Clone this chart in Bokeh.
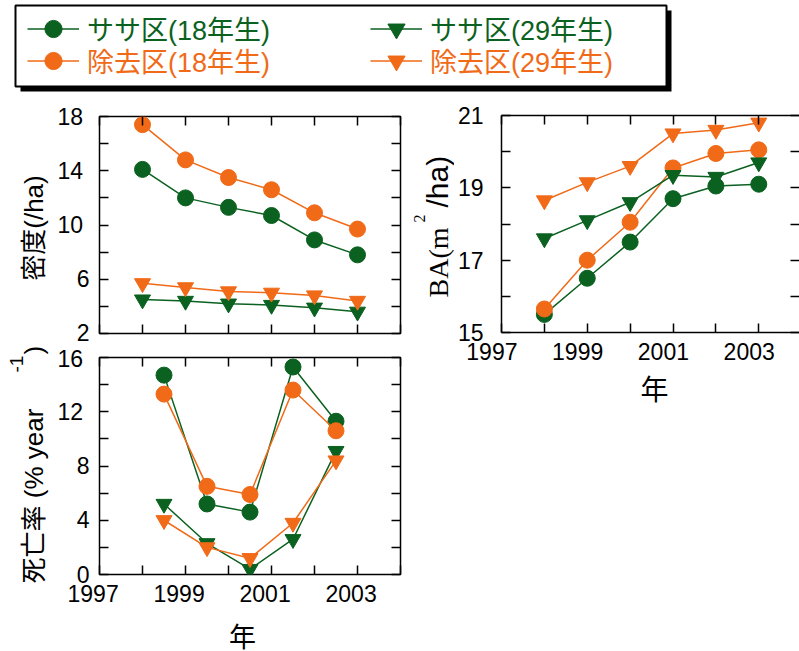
import math

from bokeh.plotting import figure
from bokeh.layouts import column, row
from bokeh.models import (Range1d, FixedTicker, LinearAxis, Label, Legend,
                          LegendItem, BoxAnnotation, CustomJSTickFormatter)
from bokeh.embed import file_html
from bokeh.resources import INLINE

# ---------------- data ----------------
years = [1998, 1999, 2000, 2001, 2002, 2003]
mortality_years = [1998.5, 1999.5, 2000.5, 2001.5, 2002.5]

series_labels = ["ササ区(18年生)", "除去区(18年生)", "ササ区(29年生)", "除去区(29年生)"]

# stand density (/ha)
density_sasa18 = [14.1, 12.0, 11.3, 10.7, 8.9, 7.8]
density_removed18 = [17.4, 14.8, 13.5, 12.6, 10.9, 9.7]
density_sasa29 = [4.5, 4.4, 4.2, 4.1, 3.9, 3.6]
density_removed29 = [5.7, 5.4, 5.1, 5.0, 4.8, 4.4]

# basal area (m2/ha)
ba_sasa18 = [15.5, 16.5, 17.5, 18.7, 19.05, 19.1]
ba_removed18 = [15.65, 17.0, 18.05, 19.55, 19.95, 20.05]
ba_sasa29 = [17.6, 18.1, 18.6, 19.35, 19.3, 19.7]
ba_removed29 = [18.65, 19.15, 19.6, 20.5, 20.6, 20.8]

# mortality (% / year)
mortality_sasa18 = [14.7, 5.2, 4.6, 15.3, 11.3]
mortality_removed18 = [13.3, 6.5, 5.9, 13.6, 10.6]
mortality_sasa29 = [5.2, 2.3, 0.4, 2.6, 9.1]
mortality_removed29 = [4.0, 2.0, 1.2, 3.8, 8.4]

year_ticks = [1997, 1999, 2001, 2003]
year_minor_ticks = [1998, 2000, 2002, 2004]
density_ticks = [2, 6, 10, 14, 18]
density_minor_ticks = [4, 8, 12, 16]
ba_ticks = [15, 17, 19, 21]
ba_minor_ticks = [16, 18, 20]
mortality_ticks = [0, 4, 8, 12, 16]
mortality_minor_ticks = [2, 6, 10, 14]

# ---------------- styles ----------------
GREEN = "#0b6120"
ORANGE = "#f06a18"
COLORS = [GREEN, ORANGE, GREEN, ORANGE]
MARKERS = ["circle", "circle", "inverted_triangle", "inverted_triangle"]
SANS = "'Liberation Sans', 'Noto Sans CJK JP', sans-serif"
SERIF = "'Liberation Serif', 'Noto Serif CJK JP', serif"
TICK_FONT_SIZE = "23px"


def blank(width, height, left=0, right=0):
    """A plain drawing area used only for titles."""
    s = figure(width=width, height=height,
               x_range=Range1d(0, width - left - right), y_range=Range1d(0, height),
               output_backend="svg", toolbar_location=None,
               x_axis_location=None, y_axis_location=None,
               min_border_left=left, min_border_right=right,
               min_border_top=0, min_border_bottom=0,
               outline_line_color=None)
    s.grid.visible = False
    return s


def make_panel(width, height, x_end, y_start, y_end, borders, outline=True):
    left, right, top, bottom = borders
    p = figure(width=width, height=height,
               x_range=Range1d(1997, x_end), y_range=Range1d(y_start, y_end),
               output_backend="svg", toolbar_location=None,
               x_axis_location=None, y_axis_location=None,
               min_border_left=left, min_border_right=right,
               min_border_top=top, min_border_bottom=bottom,
               outline_line_color="black" if outline else None,
               outline_line_width=1.5)
    p.grid.visible = False
    return p


def add_axis(p, side, ticks, minor, code=None, standoff=0, line=False):
    ax = LinearAxis(ticker=FixedTicker(ticks=ticks, minor_ticks=minor),
                    major_tick_in=9, major_tick_out=0,
                    minor_tick_in=9, minor_tick_out=0,
                    major_tick_line_width=1.5, minor_tick_line_width=1.5,
                    major_tick_line_color="black", minor_tick_line_color="black",
                    axis_line_color="black" if line else None, axis_line_width=1.5)
    if code is None:
        # tick marks only
        ax.major_label_text_font_size = "0px"
        ax.major_label_text_color = None
        ax.major_label_standoff = 0
    else:
        ax.formatter = CustomJSTickFormatter(code=code)
        ax.major_label_text_font = SANS
        ax.major_label_text_font_size = TICK_FONT_SIZE
        ax.major_label_text_color = "black"
        ax.major_label_standoff = standoff
    p.add_layout(ax, side)
    return ax


def draw_series(p, x, series):
    for y, color, marker in zip(series, COLORS, MARKERS):
        p.line(x, y, line_color=color, line_width=1.5)
        p.scatter(x, y, marker=marker, size=16, fill_color=color, line_color=color)


def title(p, text, x, y, size, font=SANS, angle=math.pi / 2, align="left"):
    p.add_layout(Label(x=x, y=y, x_units="screen", y_units="screen", text=text,
                       angle=angle, text_font=font, text_font_size=size,
                       text_align=align, text_baseline="alphabetic",
                       text_color="black"))


Y_WIDE = "return tick >= 10 ? tick.toFixed(0) + '\\u00a0' : tick.toFixed(0);"
Y_PLAIN = "return tick.toFixed(0);"
X_PAD2 = "return tick.toFixed(0) + '\\u00a0\\u00a0';"
X_PAD3 = "return tick.toFixed(0) + '\\u00a0\\u00a0\\u00a0';"

# ---------------- legend strip ----------------
leg = blank(799, 100)
leg.add_layout(BoxAnnotation(left=20, right=671, bottom=9, top=90,
                             fill_color="black", fill_alpha=1,
                             line_color=None))
leg.add_layout(BoxAnnotation(left=15, right=666, bottom=14, top=95,
                             fill_color="white", fill_alpha=1,
                             line_color="black", line_alpha=1, line_width=2))
legend_spots = [(27, 50.5), (27, 18.5), (370, 50.5), (370, 18.5)]
legend_first = [density_sasa18, density_removed18, density_sasa29, density_removed29]
for text, color, marker, spot, ys in zip(series_labels, COLORS, MARKERS,
                                         legend_spots, legend_first):
    # hidden proxies: only their legend samples are shown
    lr = leg.line(x=years[:1], y=ys[:1], line_color=color, line_width=1.5, visible=False)
    sr = leg.scatter(x=years[:1], y=ys[:1], marker=marker, fill_color=color,
                     line_color=color, visible=False)
    leg.add_layout(Legend(items=[LegendItem(label=text, renderers=[lr, sr])],
                          location=spot, orientation="horizontal",
                          glyph_width=52, glyph_height=43, label_standoff=8,
                          padding=0, margin=0, spacing=0,
                          inactive_fill_alpha=0,
                          border_line_color=None, background_fill_alpha=0,
                          label_text_font=SANS, label_text_font_size="27px",
                          label_text_color=color, label_text_baseline="middle"))

# ---------------- left-hand titles (density + mortality) ----------------
s13 = blank(50, 551)
title(s13, "密度(/ha)", 33, 423.5, "26px", align="center")
title(s13, "死亡率 (% year", 33, 68, "26px")
title(s13, "-1", 16, 279, "19px")
title(s13, ")", 33, 297, "26px")

# ---------------- density ----------------
p1 = make_panel(360, 245, 2004, 2, 18, (49, 10, 16, 12))
add_axis(p1, "left", density_ticks, density_minor_ticks, Y_WIDE, standoff=10)
add_axis(p1, "right", density_ticks, density_minor_ticks)
add_axis(p1, "below", year_ticks, year_minor_ticks)
add_axis(p1, "above", year_ticks, year_minor_ticks)
draw_series(p1, years, [density_sasa18, density_removed18, density_sasa29, density_removed29])

# ---------------- mortality ----------------
p3 = make_panel(360, 267, 2004, 0, 16, (49, 10, 12, 38))
add_axis(p3, "left", mortality_ticks, mortality_minor_ticks, Y_WIDE, standoff=10)
add_axis(p3, "right", mortality_ticks, mortality_minor_ticks)
add_axis(p3, "below", year_ticks, year_minor_ticks, X_PAD2, standoff=6)
add_axis(p3, "above", year_ticks, year_minor_ticks)
draw_series(p3, mortality_years,
            [mortality_sasa18, mortality_removed18, mortality_sasa29, mortality_removed29])

x3 = blank(360, 39, left=49, right=10)
title(x3, "年", 143, 14, "27px", angle=0, align="center")

# ---------------- basal area ----------------
s2 = blank(44, 551)
title(s2, "BA(m", 28, 354, "28px", font=SERIF)
title(s2, "2", 9, 429, "16px", font=SERIF)
title(s2, "/ha)", 27, 444, "30px")

p2 = make_panel(345, 270, 2003.95, 15, 21, (44, 0, 15, 38), outline=False)
add_axis(p2, "left", ba_ticks, ba_minor_ticks, Y_PLAIN, standoff=18, line=True)
add_axis(p2, "right", ba_ticks, ba_minor_ticks)
add_axis(p2, "below", year_ticks, year_minor_ticks, X_PAD3, standoff=6, line=True)
add_axis(p2, "above", year_ticks, year_minor_ticks, line=True)
draw_series(p2, years, [ba_sasa18, ba_removed18, ba_sasa29, ba_removed29])

x2 = blank(345, 281, left=44, right=0)
title(x2, "年", 153, 261, "28px", angle=0, align="center")

layout = column(
    leg,
    row(
        row(s13, column(p1, p3, x3)),
        row(s2, column(p2, x2)),
    ),
)

with open("out.html", "w") as f:
    f.write(file_html(layout, INLINE))
